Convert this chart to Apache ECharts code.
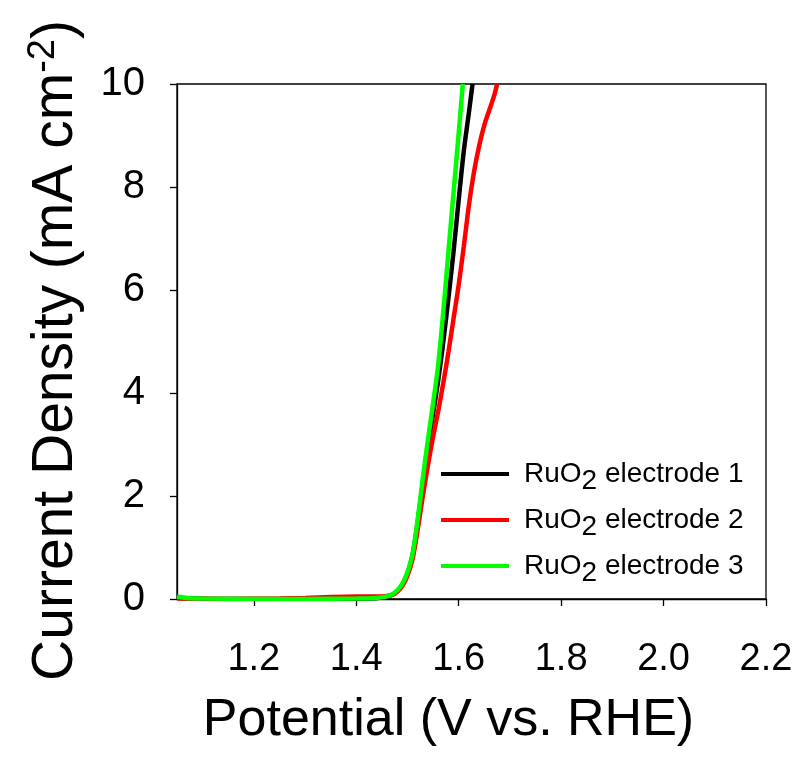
<!DOCTYPE html>
<html>
<head>
<meta charset="utf-8">
<script src="https://cdn.jsdelivr.net/npm/echarts@6/dist/echarts.min.js"></script>
<style>
  html, body { margin: 0; padding: 0; background: #fff; }
  #main { width: 801px; height: 762px; }
</style>
</head>
<body>
<div id="main"></div>
<script>
// potential (V vs. RHE) and current density (mA cm-2)
var electrode1 = [
    [1.05, 0.03], [1.08, 0.01], [1.15, 0.0], [1.25, 0.0], [1.35, 0.0], [1.42, 0.01],
    [1.45, 0.03], [1.47, 0.08], [1.48, 0.15], [1.49, 0.28], [1.50, 0.5], [1.51, 0.85],
    [1.52, 1.5], [1.53, 2.25], [1.54, 2.95], [1.55, 3.6], [1.56, 4.25], [1.57, 5.0],
    [1.58, 5.85], [1.59, 6.75], [1.60, 7.75], [1.61, 8.7], [1.62, 9.45], [1.627, 10.0]
];
var electrode2 = [
    [1.05, 0.01], [1.15, 0.0], [1.25, 0.01], [1.30, 0.02], [1.35, 0.04], [1.40, 0.05],
    [1.45, 0.05], [1.47, 0.08], [1.48, 0.14], [1.49, 0.25], [1.50, 0.45], [1.51, 0.78],
    [1.52, 1.35], [1.53, 2.0], [1.54, 2.6], [1.55, 3.15], [1.56, 3.65], [1.57, 4.2],
    [1.58, 4.8], [1.59, 5.45], [1.60, 6.1], [1.61, 6.85], [1.62, 7.65], [1.63, 8.3],
    [1.64, 8.8], [1.65, 9.2], [1.66, 9.5], [1.67, 9.8], [1.675, 10.0]
];
var electrode3 = [
    [1.05, 0.05], [1.07, 0.02], [1.10, 0.01], [1.20, 0.0], [1.30, 0.0], [1.40, 0.01],
    [1.44, 0.02], [1.46, 0.05], [1.47, 0.09], [1.48, 0.17], [1.49, 0.3], [1.50, 0.52],
    [1.51, 0.88], [1.52, 1.55], [1.53, 2.35], [1.54, 3.1], [1.55, 3.8], [1.56, 4.55],
    [1.57, 5.6], [1.58, 6.75], [1.59, 7.9], [1.60, 9.05], [1.608, 10.0]
];
var xTicks = [1.2, 1.4, 1.6, 1.8, 2.0, 2.2];
var names = ['RuO2 electrode 1', 'RuO2 electrode 2', 'RuO2 electrode 3'];
var colors = ['#000000', '#ff0000', '#00ff00'];

var FONT = '"Liberation Sans", Arial, sans-serif';
var chart = echarts.init(document.getElementById('main'));

var option = {
    animation: false,
    color: colors,
    grid: {
        left: 177, right: 35, top: 84, bottom: 163,
        show: true, borderColor: '#000', borderWidth: 1.3, backgroundColor: 'transparent'
    },
    legend: {
        orient: 'vertical',
        left: 436,
        top: 455,
        icon: 'rect',
        itemWidth: 68,
        itemHeight: 4,
        itemGap: 11,
        data: names,
        formatter: function (n) {
            return '{a|RuO}{s|2}{a|' + n.slice(4) + '}';
        },
        textStyle: {
            fontFamily: FONT,
            padding: [0, 0, 0, 10],
            rich: {
                a: { fontSize: 28, fontFamily: FONT, color: '#000' },
                s: { fontSize: 28, fontFamily: FONT, color: '#000', padding: [14, 0, 0, 0] }
            }
        }
    },
    xAxis: {
        type: 'value',
        min: 1.05,
        max: 2.2,
        name: 'Potential (V vs. RHE)',
        nameLocation: 'middle',
        nameGap: 96,
        nameTextStyle: { fontFamily: FONT, fontSize: 52, color: '#000', padding: [0, 46, 0, 0] },
        splitLine: { show: false },
        axisLine: { lineStyle: { color: '#000', width: 1.3 } },
        axisTick: { customValues: xTicks, length: 7, inside: false, lineStyle: { color: '#000', width: 1.3 } },
        axisLabel: {
            customValues: xTicks,
            margin: 42,
            fontFamily: FONT, fontSize: 38, color: '#000',
            formatter: function (v) { return v.toFixed(1); }
        }
    },
    yAxis: {
        type: 'value',
        min: 0,
        max: 10,
        interval: 2,
        name: '{a|Current Density (mA cm}{u|-2}{a|)}',
        nameLocation: 'middle',
        nameGap: 90,
        nameTextStyle: {
            fontFamily: FONT, color: '#000',
            padding: [0, 18, 0, 0],
            rich: {
                a: { fontSize: 57, fontFamily: FONT, color: '#000' },
                u: { fontSize: 38, fontFamily: FONT, color: '#000', padding: [0, 0, 24, 0] }
            }
        },
        splitLine: { show: false },
        axisLine: { lineStyle: { color: '#000', width: 1.3 } },
        axisTick: { length: 7, inside: false, lineStyle: { color: '#000', width: 1.3 } },
        axisLabel: { margin: 32, fontFamily: FONT, fontSize: 40, color: '#000' }
    },
    series: [
        { name: names[0], type: 'line', data: electrode1, showSymbol: false, smooth: 0.3, lineStyle: { width: 4.5 } },
        { name: names[1], type: 'line', data: electrode2, showSymbol: false, smooth: 0.3, lineStyle: { width: 4.5 } },
        { name: names[2], type: 'line', data: electrode3, showSymbol: false, smooth: 0.3, lineStyle: { width: 4.5 } }
    ]
};
chart.setOption(option);
</script>
</body>
</html>
